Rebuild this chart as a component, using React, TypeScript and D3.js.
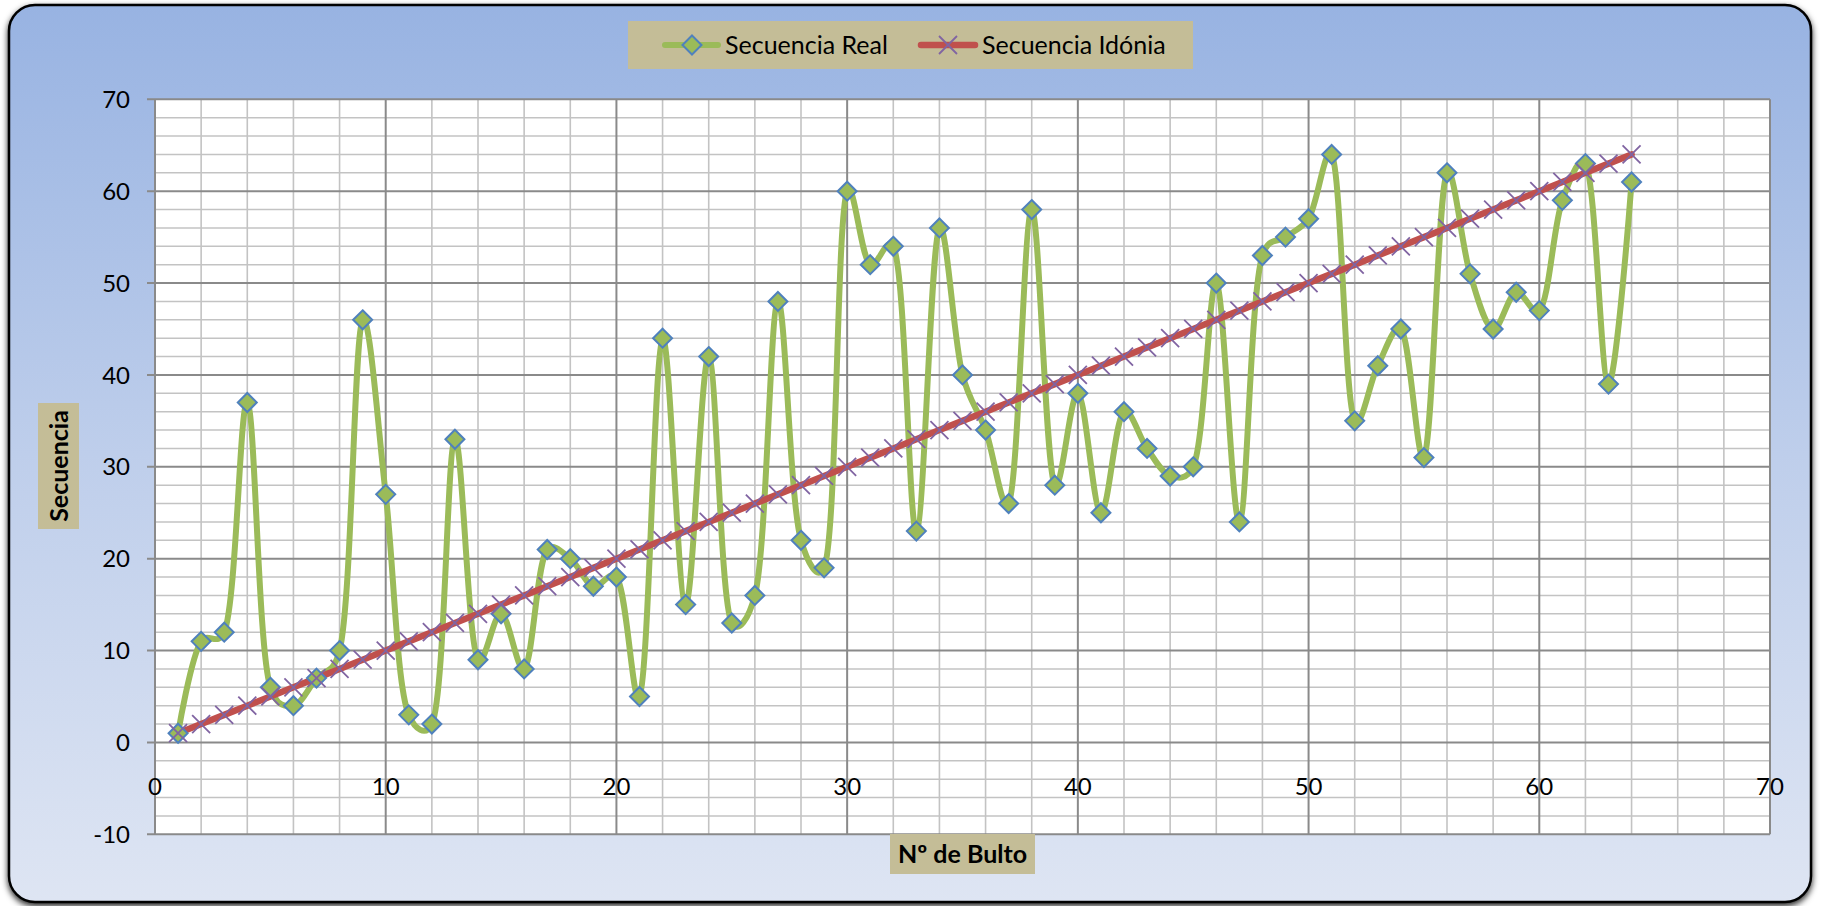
import React from 'react';
import * as d3 from 'd3';

// Nº de Bulto (x) for both series
const bultos = [
  1, 2, 3, 4, 5, 6, 7, 8, 9, 10, 11, 12, 13, 14, 15, 16,
  17, 18, 19, 20, 21, 22, 23, 24, 25, 26, 27, 28, 29, 30, 31, 32,
  33, 34, 35, 36, 37, 38, 39, 40, 41, 42, 43, 44, 45, 46, 47, 48,
  49, 50, 51, 52, 53, 54, 55, 56, 57, 58, 59, 60, 61, 62, 63, 64
];

const secuenciaReal = [
  1, 11, 12, 37, 6, 4, 7, 10, 46, 27, 3, 2, 33, 9, 14, 8,
  21, 20, 17, 18, 5, 44, 15, 42, 13, 16, 48, 22, 19, 60, 52, 54,
  23, 56, 40, 34, 26, 58, 28, 38, 25, 36, 32, 29, 30, 50, 24, 53,
  55, 57, 64, 35, 41, 45, 31, 62, 51, 45, 49, 47, 59, 63, 39, 61
];

const secuenciaIdonia = [
  1, 2, 3, 4, 5, 6, 7, 8, 9, 10, 11, 12, 13, 14, 15, 16,
  17, 18, 19, 20, 21, 22, 23, 24, 25, 26, 27, 28, 29, 30, 31, 32,
  33, 34, 35, 36, 37, 38, 39, 40, 41, 42, 43, 44, 45, 46, 47, 48,
  49, 50, 51, 52, 53, 54, 55, 56, 57, 58, 59, 60, 61, 62, 63, 64
];

const xTicks = [0, 10, 20, 30, 40, 50, 60, 70];
const yTicks = [-10, 0, 10, 20, 30, 40, 50, 60, 70];

const seriesNames = ['Secuencia Real', 'Secuencia Idónia'];

const W = 1821;
const H = 906;
const FONT = 'Lato, "Liberation Sans", sans-serif';

const GREEN = '#9BBB59';
const BLUE = '#4F81BD';
const RED = '#C0504D';
const PURPLE = '#8064A2';
const TAN = '#C4BD97';

const diamond = (cx: number, cy: number, r: number) =>
  `M${cx},${cy - r}L${cx + r},${cy}L${cx},${cy + r}L${cx - r},${cy}Z`;

const cross = (cx: number, cy: number, r: number) =>
  `M${cx - r},${cy - r}L${cx + r},${cy + r}M${cx - r},${cy + r}L${cx + r},${cy - r}`;

export default function App() {
  const plot = { left: 155, right: 1770, top: 99.3, bottom: 834.3 };

  const x = d3.scaleLinear().domain([0, 70]).range([plot.left, plot.right]);
  const y = d3.scaleLinear().domain([-10, 70]).range([plot.bottom, plot.top]);

  const minorX = d3.range(0, 71, 2).filter(v => v % 10 !== 0);
  const minorY = d3.range(-10, 71, 2).filter(v => v % 10 !== 0);

  const realPts: [number, number][] = bultos.map((b, i) => [x(b), y(secuenciaReal[i])]);
  const idealPts: [number, number][] = bultos.map((b, i) => [x(b), y(secuenciaIdonia[i])]);

  // excel "smoothed line": somewhere between uniform and centripetal catmull-rom
  const smooth = d3.line().curve(d3.curveCatmullRom.alpha(0.3));
  const straight = d3.line();

  return (
    <svg
      width={W}
      height={H}
      style={{ position: 'absolute', left: 0, top: 0 }}
      fontFamily={FONT}
    >
      <defs>
        <linearGradient id="bg" x1="0" y1="0" x2="0" y2="1">
          <stop offset="0" stopColor="#98B3E2" />
          <stop offset="0.5" stopColor="#BECEEB" />
          <stop offset="1" stopColor="#DEE5F3" />
        </linearGradient>
        <filter id="shadow" x="-5%" y="-5%" width="110%" height="115%">
          <feDropShadow dx="0" dy="3" stdDeviation="3" floodColor="#000" floodOpacity="0.85" />
        </filter>
      </defs>

      <rect
        x={9}
        y={5}
        width={1802}
        height={897}
        rx={26}
        ry={26}
        fill="url(#bg)"
        stroke="#000"
        strokeWidth={2.5}
        filter="url(#shadow)"
      />

      {/* plot area */}
      <rect
        x={plot.left}
        y={plot.top}
        width={plot.right - plot.left}
        height={plot.bottom - plot.top}
        fill="#fff"
      />

      <g className="minor-grid" stroke="#C3C3C3" strokeWidth={1.6}>
        {minorX.map(v => (
          <line key={'mx' + v} x1={x(v)} x2={x(v)} y1={plot.top} y2={plot.bottom} />
        ))}
        {minorY.map(v => (
          <line key={'my' + v} x1={plot.left} x2={plot.right} y1={y(v)} y2={y(v)} />
        ))}
      </g>

      <g className="major-grid" stroke="#8A8A8A" strokeWidth={2}>
        {xTicks.map(v => (
          <line key={'gx' + v} x1={x(v)} x2={x(v)} y1={plot.top} y2={plot.bottom} />
        ))}
        {yTicks.map(v => (
          <line key={'gy' + v} x1={plot.left - 8} x2={plot.right} y1={y(v)} y2={y(v)} />
        ))}
      </g>

      {/* y tick labels */}
      <g fontSize={24} fill="#000" textAnchor="end">
        {yTicks.map(v => (
          <text key={'yl' + v} x={130} y={y(v)} dy="0.36em">
            {v}
          </text>
        ))}
      </g>

      {/* x tick labels */}
      <g fontSize={24} fill="#000" textAnchor="middle">
        {xTicks.map(v => (
          <text key={'xl' + v} x={x(v)} y={786} dy="0.36em">
            {v}
          </text>
        ))}
      </g>

      {/* lines */}
      <path d={smooth(realPts)!} fill="none" stroke={GREEN} strokeWidth={6} strokeLinejoin="round" />
      <path d={straight(idealPts)!} fill="none" stroke={RED} strokeWidth={6.5} strokeLinecap="round" />

      {/* markers */}
      <g fill={GREEN} stroke={BLUE} strokeWidth={2}>
        {realPts.map(([px, py], i) => (
          <path key={'d' + i} d={diamond(px, py, 9.5)} />
        ))}
      </g>
      <g fill="none" stroke={PURPLE} strokeWidth={1.8}>
        {idealPts.map(([px, py], i) => (
          <path key={'c' + i} d={cross(px, py, 9)} />
        ))}
      </g>

      {/* axis titles */}
      <rect x={38} y={403} width={41} height={126} fill={TAN} />
      <text
        transform={`translate(58.5, 466) rotate(-90)`}
        textAnchor="middle"
        dy="0.36em"
        fontSize={25}
        fontWeight="bold"
      >
        Secuencia
      </text>

      <rect x={890} y={834} width={145} height={40} fill={TAN} />
      <text x={962.5} y={854} textAnchor="middle" dy="0.36em" fontSize={25} fontWeight="bold">
        Nº de Bulto
      </text>

      {/* legend */}
      <rect x={628} y={21} width={565} height={48} fill={TAN} />
      <line x1={665} x2={718} y1={45} y2={45} stroke={GREEN} strokeWidth={6} strokeLinecap="round" />
      <path d={diamond(692, 45, 9.5)} fill={GREEN} stroke={BLUE} strokeWidth={2} />
      <text x={725} y={45} dy="0.36em" fontSize={25}>
        {seriesNames[0]}
      </text>
      <line x1={921} x2={975} y1={45} y2={45} stroke={RED} strokeWidth={6.5} strokeLinecap="round" />
      <path d={cross(948, 45, 9)} fill="none" stroke={PURPLE} strokeWidth={1.8} />
      <text x={982} y={45} dy="0.36em" fontSize={25}>
        {seriesNames[1]}
      </text>
    </svg>
  );
}
